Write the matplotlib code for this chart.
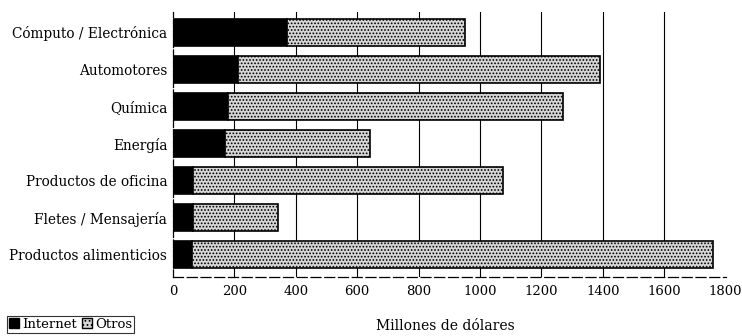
import matplotlib
matplotlib.use("Agg")
import matplotlib.pyplot as plt
from matplotlib.patches import Patch

categories = ["Cómputo / Electrónica", "Automotores", "Química", "Energía",
              "Productos de oficina", "Fletes / Mensajería", "Productos alimenticios"]
internet = [370, 212, 179, 169, 65, 65, 62]
totals = [951, 1391, 1270, 642, 1075, 342, 1759]
otros = [t - i for t, i in zip(totals, internet)]
xticks = [0, 200, 400, 600, 800, 1000, 1200, 1400, 1600, 1800]

plt.rcParams['font.family'] = ['DejaVu Serif']
plt.rcParams['hatch.color'] = '#6a6a6a'
plt.rcParams['hatch.linewidth'] = 0.8

fig = plt.figure(figsize=(7.42, 3.36), dpi=100)
ax = fig.add_axes([0.233, 0.176, 0.745, 0.788])

y = list(range(len(categories)))
ax.barh(y, internet, height=0.72, color='black', edgecolor='black', linewidth=1.2, zorder=3)
ax.barh(y, otros, left=internet, height=0.72, color='#d6d6d6', edgecolor='black',
        hatch='.....', linewidth=1.2, zorder=3)

ax.set_ylim(6.6, -0.55)
ax.set_xlim(0, 1800)
ax.set_yticks(y)
ax.set_yticklabels(categories, fontsize=9.8)
ax.set_xticks(xticks)
ax.set_xticklabels([str(v) for v in xticks], fontsize=9.5)
ax.tick_params(length=0, pad=6)
ax.tick_params(axis='y', pad=4)

for v in xticks[1:-1]:
    ax.axvline(v, color='black', linewidth=0.8, zorder=1)

for s in ['top', 'right']:
    ax.spines[s].set_visible(False)
ax.spines['left'].set_linestyle((0, (6, 2)))
ax.spines['bottom'].set_linestyle((0, (8, 3)))
ax.spines['left'].set_linewidth(0.9)
ax.spines['bottom'].set_linewidth(0.9)

fig.text(0.6, 0.03, "Millones de dólares", ha='center', va='center', fontsize=10)

handles = [Patch(facecolor='black', edgecolor='black', label='Internet'),
           Patch(facecolor='#d6d6d6', edgecolor='black', hatch='....', label='Otros')]
leg = fig.legend(handles=handles, loc='lower left', bbox_to_anchor=(0.0, -0.01), ncol=2,
                 fontsize=9.5, frameon=True, handlelength=0.8, handleheight=0.8,
                 handletextpad=0.2, columnspacing=0.4, borderpad=0.15, fancybox=False)
leg.get_frame().set_edgecolor('black')
leg.get_frame().set_linewidth(0.8)

fig.savefig("out.png", dpi=100)
